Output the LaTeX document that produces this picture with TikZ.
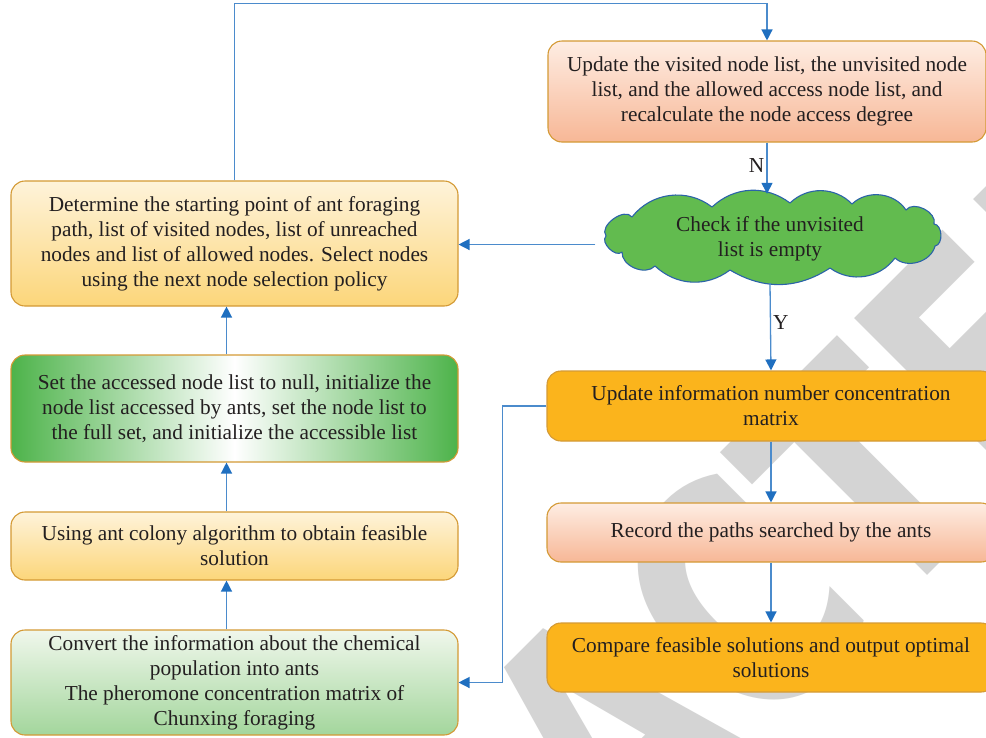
\documentclass[tikz,border=0pt]{standalone}
\usepackage{fontspec}
\setmainfont{Liberation Serif}
\newfontfamily\wmfont{DejaVu Sans}
\usetikzlibrary{arrows.meta}

\definecolor{ink}{HTML}{231F20}
\definecolor{rim}{HTML}{D49A35}
\definecolor{flow}{HTML}{4B8BCC}
\definecolor{flowtip}{HTML}{1F6FC0}
\definecolor{creamtop}{HTML}{FEF3DA}
\definecolor{creambot}{HTML}{FCD67A}
\definecolor{leafedge}{HTML}{4DB34A}
\definecolor{mintop}{HTML}{F0F7EC}
\definecolor{minbot}{HTML}{A3D69C}
\definecolor{peachtop}{HTML}{FEEDE3}
\definecolor{peachbot}{HTML}{F7B796}
\definecolor{amber}{HTML}{FBB41C}
\definecolor{cloudfill}{HTML}{62BB4F}
\definecolor{cloudrim}{HTML}{2B63A9}
\definecolor{wmgray}{HTML}{D4D4D4}

\tikzset{
  boxbase/.style={draw=rim, line width=1.1pt, rounded corners=14pt,
    align=center, text=ink, inner sep=0pt,
    font=\fontsize{21.3}{25}\selectfont},
  creambox/.style={boxbase, top color=creamtop, bottom color=creambot},
  leafbox/.style={boxbase, left color=leafedge, right color=leafedge, middle color=white},
  mintbox/.style={boxbase, top color=mintop, bottom color=minbot},
  peachbox/.style={boxbase, top color=peachtop, bottom color=peachbot},
  amberbox/.style={boxbase, fill=amber},
  flowline/.style={draw=flow, line width=1.3pt,
    -{Triangle[width=11pt,length=11pt,color=flowtip]}},
  tag/.style={text=ink, font=\fontsize{21.3}{25}\selectfont, inner sep=2pt},
  puffs/.style={draw=cloudrim, line width=1.1pt, fill=cloudfill, line join=round},
  wm/.style={text=wmgray, font=\wmfont\bfseries\fontsize{320}{320}\selectfont, inner sep=0pt}
}

\begin{document}
\begin{tikzpicture}[x=1pt,y=-1pt]
\useasboundingbox (0,0) rectangle (986,737);
\clip (0,0) rectangle (986,737);
\fill[white] (0,0) rectangle (986,737);

% background stamp, condensed letters on a diagonal
\node[wm, rotate=45] (stamp) at (609,729) {\scalebox{0.77}[1]{RETRACTED}};

% left column
\node[creambox, minimum width=447pt, minimum height=125pt] (L1) at (234.5,243.5)
  {Determine the starting point of ant foraging\\path, list of visited nodes, list of unreached\\nodes and list of allowed nodes. Select nodes\\using the next node selection policy};
\node[leafbox, minimum width=447pt, minimum height=107pt] (L2) at (234.5,408.5)
  {Set the accessed node list to null, initialize the\\node list accessed by ants, set the node list to\\the full set, and initialize the accessible list};
\node[creambox, minimum width=447pt, minimum height=68pt] (L3) at (234.5,546)
  {Using ant colony algorithm to obtain feasible\\solution};
\node[mintbox, minimum width=447pt, minimum height=105pt] (L4) at (234.5,682.5)
  {Convert the information about the chemical\\population into ants\\The pheromone concentration matrix of\\Chunxing foraging};

% right column
\node[peachbox, minimum width=438pt, minimum height=101pt] (R1) at (767,91.5)
  {Update the visited node list, the unvisited node\\list, and the allowed access node list, and\\recalculate the node access degree};

% cloud outline for the decision
\draw[puffs] (606,236) to[bend left=90] (632,217) to[bend left=45] (712,207)
  to[bend left=40] (790,203) to[bend left=45] (852,204) to[bend left=50] (906,210)
  to[bend left=80] (934,224) to[bend left=84] (935,246) to[bend left=60] (895,258)
  to[bend left=45] (830,268) to[bend left=32] (730,270) to[bend left=40] (655,266)
  to[bend left=70] (622,252) to[bend left=90] cycle;
\node[tag, align=center, minimum width=349pt, minimum height=89pt, inner sep=0pt]
  (chk) at (770,238.5) {Check if the unvisited\\list is empty};

\node[amberbox, minimum width=448pt, minimum height=70pt] (R2) at (771,406)
  {Update information number concentration\\matrix};
\node[peachbox, minimum width=448pt, minimum height=59pt] (R3) at (771,532.5)
  {Record the paths searched by the ants};
\node[amberbox, minimum width=448pt, minimum height=69pt] (R4) at (771,657.5)
  {Compare feasible solutions and output optimal\\solutions};

% connectors
\draw[flowline] ([xshift=-8pt]L4.north) -- ([xshift=-8pt]L3.south);
\draw[flowline] ([xshift=-8pt]L3.north) -- ([xshift=-8pt]L2.south);
\draw[flowline] ([xshift=-8pt]L2.north) -- ([xshift=-8pt]L1.south);
\draw[flowline] (L1.north) -- ++(0,-177) -| (R1.north);
\draw[flowline] (R1.south) -- node[tag, left, pos=0.45] (nlab) {N} (R1.south |- chk.north);
\draw[flowline] ([yshift=-6pt]chk.west) -- ([yshift=-6pt]chk.west -| L1.east);
\draw[flowline] (chk.south) -- node[tag, right, pos=0.45] (ylab) {Y} (R2.north);
\draw[flowline] (R2.south) -- (R3.north);
\draw[flowline] (R3.south) -- (R4.north);
\draw[flowline] (R2.west) -- ++(-44,0) |- (L4.east);
\end{tikzpicture}
\end{document}
